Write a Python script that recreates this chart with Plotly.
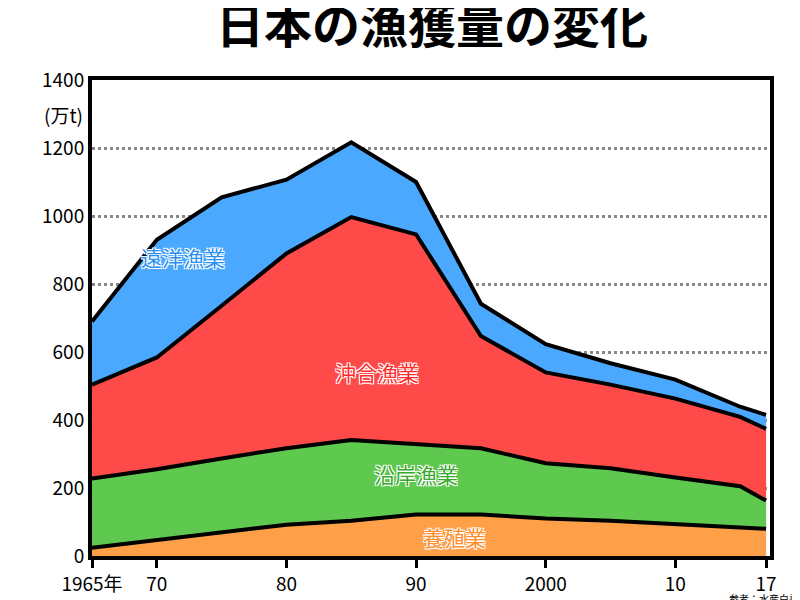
import plotly.graph_objects as go

years = [1965, 1970, 1975, 1980, 1985, 1990, 1995, 2000, 2005, 2010, 2015, 2017]
aquaculture = [24, 47, 68, 92, 104, 122, 122, 110, 104, 95, 86, 80]
coastal = [204, 208, 219, 225, 237, 207, 195, 163, 154, 136, 119, 83]
offshore = [276, 329, 449, 573, 656, 617, 330, 267, 246, 232, 204, 211]
distant = [186, 346, 319, 217, 220, 154, 95, 83, 63, 56, 30, 41]
names = ["養殖業", "沿岸漁業", "沖合漁業", "遠洋漁業"]
colors = ["#ffa048", "#5ec94e", "#ff4a4a", "#4aa9ff"]
tick_vals = [1965, 1970, 1980, 1990, 2000, 2010, 2017]
tick_text = ["1965年", "70", "80", "90", "2000", "10", "17"]

fig = go.Figure()
for vals, nm, c in zip([aquaculture, coastal, offshore, distant], names, colors):
    fig.add_trace(go.Scatter(x=years, y=vals, name=nm, stackgroup="a", mode="lines",
                             line=dict(color="black", width=4), fillcolor=c))

sh = "1px 1px 0 #fff, -1px -1px 0 #fff, 1px -1px 0 #fff, -1px 1px 0 #fff"
labels = [("遠洋漁業", 1972, 880, "#2a8ff0"), ("沖合漁業", 1987, 540, "#ff2a2a"),
          ("沿岸漁業", 1990, 240, "#3aa82e"), ("養殖業", 1993, 55, "#ff8c2a")]
for t, x, y, c in labels:
    fig.add_annotation(x=x, y=y, text=t, showarrow=False,
                       font=dict(size=21, color=c, family="Noto Sans CJK JP", shadow=sh))

fig.add_annotation(xref="paper", yref="paper", x=-0.01, y=0.96, xanchor="right", text="(万t)",
                   showarrow=False, font=dict(size=19, color="black", family="Noto Sans CJK JP"))
fig.add_annotation(xref="paper", yref="paper", x=1.045, y=-0.11, xanchor="right", text="参考：水産白書",
                   showarrow=False, font=dict(size=10, color="black", family="Noto Sans CJK JP"))

fig.update_layout(
    width=800, height=600, margin=dict(l=84, r=38, t=72, b=50),
    paper_bgcolor="white", plot_bgcolor="white", showlegend=False,
    title=dict(text="<b>日本の漁獲量の変化</b>", x=0.53, xanchor="center", y=0.998, yanchor="top",
               font=dict(size=48, color="black", family="Noto Sans CJK JP")),
    font=dict(family="Noto Sans CJK JP", color="black", size=19),
    xaxis=dict(range=[1965, 2017.3], tickvals=tick_vals, ticktext=tick_text, showgrid=False,
               ticks="outside", ticklen=8, tickwidth=3, tickcolor="black",
               showline=True, linewidth=4, linecolor="black", mirror=True, zeroline=False),
    yaxis=dict(range=[0, 1400], tickvals=[0, 200, 400, 600, 800, 1000, 1200, 1400],
               showgrid=True, gridcolor="#888", griddash="dot", gridwidth=3,
               showline=True, linewidth=4, linecolor="black", mirror=True, zeroline=False),
)
fig.write_html("out.html")
